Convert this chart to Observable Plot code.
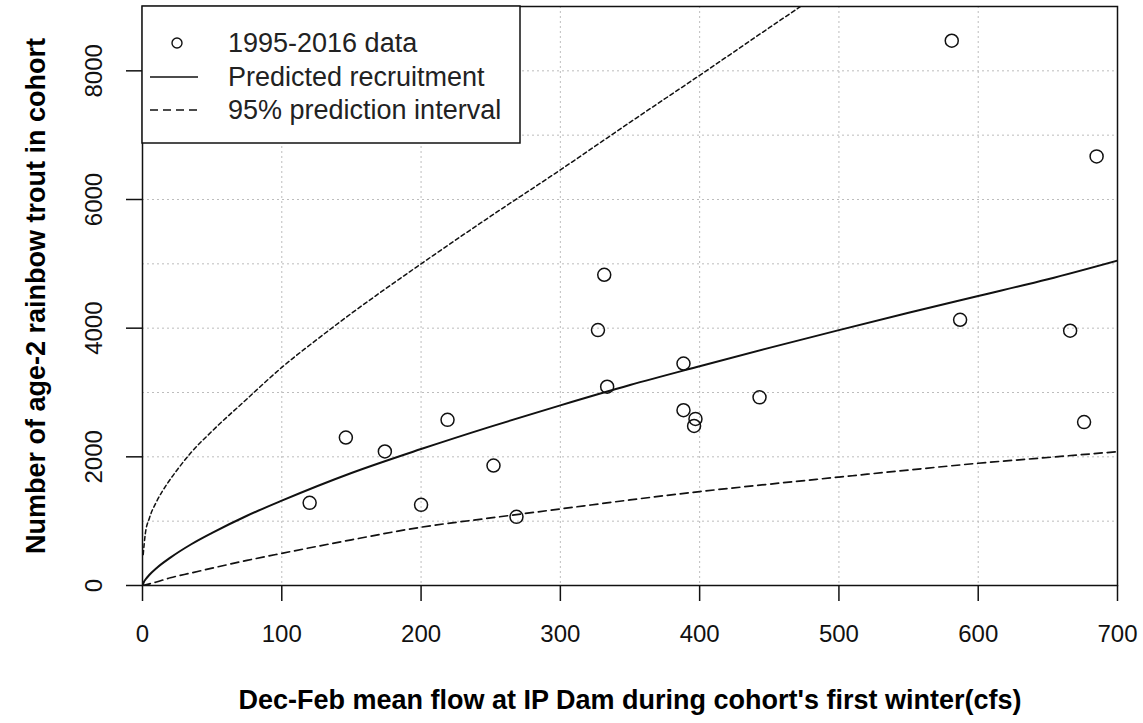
<!DOCTYPE html>
<html>
<head>
<meta charset="utf-8">
<script src="https://cdn.jsdelivr.net/npm/d3@7"></script>
<script src="https://cdn.jsdelivr.net/npm/@observablehq/plot@0.6"></script>
<style>
  html, body { margin: 0; padding: 0; background: #fff; }
  #chart { position: relative; width: 1143px; height: 723px; }
</style>
</head>
<body>
<div id="chart"></div>
<script>
// ---- data ----
const flow  = [120, 146, 174, 200, 219, 252, 268.5, 327, 331.5, 333.6, 388.4, 388.4, 397, 396, 443, 581, 587, 666, 676, 685];
const trout = [1285, 2300, 2083, 1254, 2575, 1865, 1067, 3970, 4830, 3090, 3450, 2725, 2590, 2480, 2925, 8468, 4130, 3960, 2540, 6670];

const predQ = [0, 1, 2, 5, 10, 20, 35, 50, 75, 100, 150, 200, 250, 300, 350, 400, 450, 500, 550, 600, 650, 700];
const predR = [0, 55, 89, 167, 269, 433, 641, 818, 1084, 1319, 1749, 2121, 2470, 2800, 3116, 3408, 3694, 3970, 4240, 4500, 4760, 5050];

const lowQ = [0, 5, 10, 20, 35, 50, 75, 100, 150, 200, 250, 300, 350, 400, 450, 500, 550, 600, 650, 700];
const lowR = [0, 25, 55, 120, 195, 270, 390, 500, 710, 906, 1050, 1190, 1330, 1460, 1575, 1685, 1795, 1900, 1990, 2080];

const upQ = [0.5, 2, 5, 10, 18, 25, 35, 50, 75, 100, 125, 150, 175, 200, 250, 300, 350, 400, 450, 480];
const upR = [480, 800, 1050, 1300, 1590, 1800, 2070, 2400, 2900, 3390, 3820, 4230, 4620, 5000, 5740, 6460, 7200, 7930, 8670, 9110];

const xTicks = [0, 100, 200, 300, 400, 500, 600, 700];
const yTicks = [0, 2000, 4000, 6000, 8000];
const xGrid = [100, 200, 300, 400, 500, 600];
const yGrid = [1000, 2000, 3000, 4000, 5000, 6000, 7000, 8000];

const xTitle = "Dec-Feb mean flow at IP Dam during cohort's first winter(cfs)";
const yTitle = "Number of age-2 rainbow trout in cohort";
const legendLabels = ["1995-2016 data", "Predicted recruitment", "95% prediction interval"];

// ---- tables built from the arrays ----
const points = flow.map((q, i) => ({q, r: trout[i]}));
const pred = predQ.map((q, i) => ({q, r: predR[i]}));
const low = lowQ.map((q, i) => ({q, r: lowR[i]}));
const up = upQ.map((q, i) => ({q, r: upR[i]}));

const ink = "#111";
const chart = Plot.plot({
  width: 1143,
  height: 723,
  marginLeft: 142,
  marginRight: 26,
  marginTop: 6,
  marginBottom: 138,
  style: {fontFamily: "'Liberation Sans', Arial, sans-serif", fontSize: "24px", color: ink, background: "#fff"},
  x: {domain: [0, 700]},
  y: {domain: [0, 9000]},
  marks: [
    Plot.gridX(xGrid, {stroke: "#bdbdbd", strokeOpacity: 1, strokeDasharray: "2,3"}),
    Plot.gridY(yGrid, {stroke: "#bdbdbd", strokeOpacity: 1, strokeDasharray: "2,3"}),
    Plot.line(up, {x: "q", y: "r", stroke: ink, strokeWidth: 1.5, strokeDasharray: "4,3", clip: true, curve: "monotone-x"}),
    Plot.line(low, {x: "q", y: "r", stroke: ink, strokeWidth: 1.7, strokeDasharray: "8,5", clip: true, curve: "monotone-x"}),
    Plot.line(pred, {x: "q", y: "r", stroke: ink, strokeWidth: 2, clip: true, curve: "monotone-x"}),
    Plot.dot(points, {x: "q", y: "r", r: 6.5, stroke: ink, strokeWidth: 1.5, fill: "none"}),
    Plot.axisX({ticks: xTicks, tickSize: 16, tickPadding: 23, label: null, tickFormat: d => String(d), fontSize: 24, stroke: ink, strokeWidth: 1.5}),
    Plot.axisY({ticks: yTicks, tickSize: 16, label: null, tickFormat: () => "", stroke: ink, strokeWidth: 1.5}),
    Plot.text(yTicks, {x: () => 0, y: d => d, text: d => String(d), rotate: -90, dx: -48, fontSize: 24, fill: ink}),
    Plot.frame({stroke: ink, strokeWidth: 1.5}),
    Plot.text([xTitle], {frameAnchor: "bottom", dy: 123, textAnchor: "middle", fontWeight: "bold", fontSize: 27, fill: "#000"}),
    Plot.text([yTitle], {frameAnchor: "left", dx: -106, textAnchor: "middle", rotate: -90, fontWeight: "bold", fontSize: 27, fill: "#000"})
  ]
});

// ---- legend (top-left inside the plot) ----
const svg = d3.select(chart);
const g = svg.append("g").attr("transform", "translate(142,6)").attr("text-anchor", "start");
g.append("rect").attr("width", 378).attr("height", 137)
  .attr("fill", "#fff").attr("stroke", ink).attr("stroke-width", 1.5);
const rows = [37, 71, 104];
g.append("circle").attr("cx", 35).attr("cy", rows[0]).attr("r", 5)
  .attr("fill", "none").attr("stroke", ink).attr("stroke-width", 1.4);
g.append("line").attr("x1", 8).attr("x2", 56).attr("y1", rows[1]).attr("y2", rows[1])
  .attr("stroke", ink).attr("stroke-width", 1.7);
g.append("line").attr("x1", 8).attr("x2", 56).attr("y1", rows[2]).attr("y2", rows[2])
  .attr("stroke", ink).attr("stroke-width", 1.7).attr("stroke-dasharray", "8,5");
legendLabels.forEach((t, i) => {
  g.append("text").attr("x", 86).attr("y", rows[i]).attr("dy", "0.35em")
    .attr("text-anchor", "start").attr("font-size", 27).attr("fill", "#222").text(t);
});

document.getElementById("chart").appendChild(chart);
</script>
</body>
</html>
